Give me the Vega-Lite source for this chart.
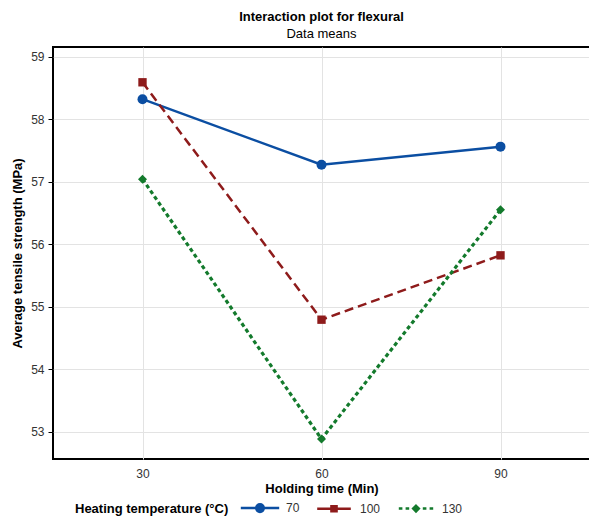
{
  "$schema": "https://vega.github.io/schema/vega-lite/v6.json",
  "autosize": "none",
  "padding": {"left": 53, "top": 47, "right": 0, "bottom": 57},
  "width": 537,
  "height": 412,
  "title": {
    "text": "Interaction plot for flexural",
    "subtitle": "Data means",
    "anchor": "middle",
    "fontSize": 13,
    "fontWeight": "bold",
    "color": "black",
    "subtitleFontSize": 13,
    "subtitleColor": "black",
    "subtitlePadding": 4,
    "offset": 6
  },
  "config": {
    "font": "Liberation Sans",
    "view": {"stroke": "black", "strokeWidth": 2},
    "axis": {
      "grid": true,
      "gridColor": "#e3e3e3",
      "gridWidth": 1,
      "domain": false,
      "labelFontSize": 12,
      "labelColor": "#333333",
      "titleFontSize": 13,
      "titleFontWeight": "bold",
      "titleColor": "black"
    }
  },
  "data": {
    "values": [
      {"time": 30, "temp": "70", "strength": 58.32},
      {"time": 60, "temp": "70", "strength": 57.27},
      {"time": 90, "temp": "70", "strength": 57.56},
      {"time": 30, "temp": "100", "strength": 58.59},
      {"time": 60, "temp": "100", "strength": 54.79},
      {"time": 90, "temp": "100", "strength": 55.82},
      {"time": 30, "temp": "130", "strength": 57.04},
      {"time": 60, "temp": "130", "strength": 52.88},
      {"time": 90, "temp": "130", "strength": 56.55}
    ]
  },
  "encoding": {
    "x": {
      "field": "time",
      "type": "quantitative",
      "title": "Holding time (Min)",
      "scale": {"domain": [15, 105], "nice": false, "zero": false},
      "axis": {"values": [30, 60, 90], "ticks": false, "tickSize": 0, "labelPadding": 9, "titlePadding": 3}
    },
    "y": {
      "field": "strength",
      "type": "quantitative",
      "title": "Average tensile strength (MPa)",
      "scale": {"domain": [52.56, 59.155], "nice": false, "zero": false},
      "axis": {"values": [53, 54, 55, 56, 57, 58, 59], "ticks": true, "tickSize": 5, "tickColor": "black", "labelPadding": 4, "titlePadding": 6}
    }
  },
  "layer": [
    {
      "transform": [{"filter": "datum.temp === '70'"}],
      "mark": {"type": "line", "stroke": "#0b4ea2", "strokeWidth": 2.5}
    },
    {
      "transform": [{"filter": "datum.temp === '100'"}],
      "mark": {"type": "line", "stroke": "#8e1b1b", "strokeWidth": 2.5, "strokeDash": [9, 5], "strokeCap": "butt"}
    },
    {
      "transform": [{"filter": "datum.temp === '130'"}],
      "mark": {"type": "line", "stroke": "#137a2c", "strokeWidth": 3.2, "strokeDash": [4, 3], "strokeCap": "butt"}
    },
    {
      "transform": [{"filter": "datum.temp === '70'"}],
      "mark": {"type": "point", "shape": "circle", "filled": true, "size": 100, "color": "#0b4ea2", "opacity": 1}
    },
    {
      "transform": [{"filter": "datum.temp === '100'"}],
      "mark": {"type": "point", "shape": "square", "filled": true, "size": 70, "color": "#8e1b1b", "opacity": 1}
    },
    {
      "transform": [{"filter": "datum.temp === '130'"}],
      "mark": {"type": "point", "shape": "diamond", "filled": true, "size": 81, "color": "#137a2c", "opacity": 1}
    },
    {
      "mark": {"type": "point", "filled": false, "opacity": 0, "strokeCap": "butt"},
      "encoding": {
        "color": {
          "field": "temp",
          "type": "nominal",
          "scale": {"domain": ["70", "100", "130"], "range": ["#0b4ea2", "#8e1b1b", "#137a2c"]},
          "legend": {
            "title": "Heating temperature (°C)",
            "orient": "none",
            "legendX": 22,
            "legendY": 455,
            "direction": "horizontal",
            "titleOrient": "left",
            "titleFontSize": 13,
            "titleFontWeight": "bold",
            "titleColor": "black",
            "titlePadding": 25,
            "labelFontSize": 12,
            "labelColor": "#333333",
            "labelOffset": 20,
            "columnPadding": 12,
            "symbolSize": 64,
            "symbolStrokeWidth": 2.5,
            "symbolOpacity": 1
          }
        },
        "shape": {
          "field": "temp",
          "type": "nominal",
          "scale": {
            "domain": ["70", "100", "130"],
            "range": [
              "M-4.8,0H4.8M0.94,0A0.94,0.94,0,1,1,-0.94,0A0.94,0.94,0,1,1,0.94,0M0.45,0A0.45,0.45,0,1,1,-0.45,0A0.45,0.45,0,1,1,0.45,0M0.1,0A0.1,0.1,0,1,1,-0.1,0A0.1,0.1,0,1,1,0.1,0",
              "M-4.2,0H4.2M-0.64,-0.64H0.64V0.64H-0.64ZM-0.2,-0.2H0.2V0.2H-0.2Z",
              "M-4.3,0H-3.4M-2.6,0H-1.7M1.7,0H2.6M3.4,0H4.3M0,-0.7L0.7,0L0,0.7L-0.7,0ZM0,-0.25L0.25,0L0,0.25L-0.25,0Z"
            ]
          }
        }
      }
    }
  ]
}
